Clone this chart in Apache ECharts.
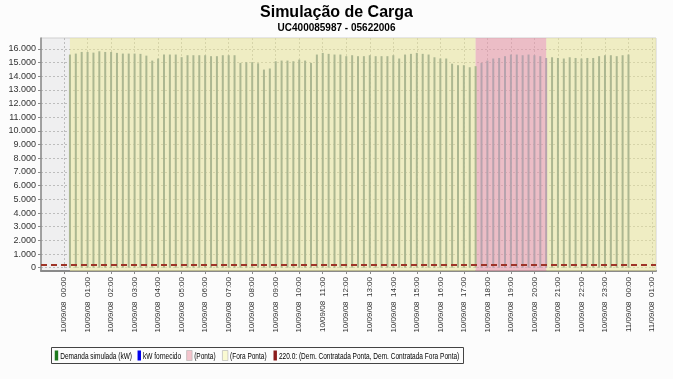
<!DOCTYPE html>
<html>
<head>
<meta charset="utf-8">
<script src="https://cdn.jsdelivr.net/npm/echarts@6/dist/echarts.min.js"></script>
<style>
html,body{margin:0;padding:0;background:#fcfcfc;}
#c{width:673px;height:379px;}
</style>
</head>
<body>
<div id="c"></div>
<script>
// Demanda simulada (kW), one value per 15 minutes from 10/09/08 00:15 to 11/09/08 00:00
var demandaSimulada = [
  15590,15660,15780,15780,15730,15830,15780,15780,15710,15660,
  15660,15660,15640,15510,15150,15300,15590,15590,15590,15400,
  15540,15540,15540,15540,15470,15470,15540,15540,15540,14980,
  15030,15030,14950,14490,14570,15100,15150,15150,15100,15220,
  15150,14980,15590,15710,15640,15590,15590,15470,15540,15470,
  15470,15540,15470,15470,15470,15540,15300,15590,15640,15710,
  15640,15590,15390,15300,15300,14920,14810,14810,14660,14740,
  14980,15150,15300,15340,15470,15590,15590,15540,15590,15540,
  15470,15340,15390,15340,15300,15390,15340,15300,15340,15340,
  15470,15540,15540,15470,15540,15590
];
var kwFornecido = [];
// sample times, hours after 10/09/08 00:00
var sampleHours = demandaSimulada.map(function(_, i){ return (i + 1) * 0.25; });

var xTickHours = [0,1,2,3,4,5,6,7,8,9,10,11,12,13,14,15,16,17,18,19,20,21,22,23,24,25];
var xTickLabels = [
  '10/09/08  00:00','10/09/08  01:00','10/09/08  02:00','10/09/08  03:00','10/09/08  04:00',
  '10/09/08  05:00','10/09/08  06:00','10/09/08  07:00','10/09/08  08:00','10/09/08  09:00',
  '10/09/08  10:00','10/09/08  11:00','10/09/08  12:00','10/09/08  13:00','10/09/08  14:00',
  '10/09/08  15:00','10/09/08  16:00','10/09/08  17:00','10/09/08  18:00','10/09/08  19:00',
  '10/09/08  20:00','10/09/08  21:00','10/09/08  22:00','10/09/08  23:00','11/09/08  00:00',
  '11/09/08  01:00'
];
var yTicks = [0,1000,2000,3000,4000,5000,6000,7000,8000,9000,10000,11000,12000,13000,14000,15000,16000];
var yTickLabels = ['0','1.000','2.000','3.000','4.000','5.000','6.000','7.000','8.000','9.000','10.000','11.000','12.000','13.000','14.000','15.000','16.000'];

var legendNames = ['Demanda simulada (kW)', 'kW fornecido', '(Ponta)', '(Fora Ponta)',
                   '220.0: (Dem. Contratada Ponta, Dem. Contratada Fora Ponta)'];
var legendColors = ['#1e7a1e', '#0000ee', '#f4c4cc', '#fafad2', '#8b1c1c'];

var pontaStart = 17.5, pontaEnd = 20.5;
var foraPontaStart = 0.25;
var demContratada = 220;

var xMin = -0.98, xMax = 25.17;

// ---- compact (horizontally condensed) legend built with graphic elements ----
var LEG_X = 51, LEG_Y = 347, LEG_W = 412, LEG_H = 16;
var measureCtx = document.createElement('canvas').getContext('2d');
measureCtx.font = '9.5px "Liberation Sans"';
var legChildren = [];
var cx = 4;
legendNames.forEach(function(name, i){
  var light = (i === 2 || i === 3);
  var sw = light ? 8 : 5;
  legChildren.push({type: 'rect', shape: {x: cx, y: 3, width: sw, height: 10},
    style: {fill: legendColors[i], stroke: light ? '#b8b8b8' : null, lineWidth: light ? 0.8 : 0}});
  cx += sw + 3;
  legChildren.push({type: 'text', x: cx, y: 8.5,
    style: {text: name, fontSize: 9.5, fontFamily: 'Liberation Sans', fill: '#000', verticalAlign: 'middle'}});
  cx += measureCtx.measureText(name).width + (light ? 10 : 8);
});
var legScale = (LEG_W - 2) / (cx - 4);

var chart = echarts.init(document.getElementById('c'));
chart.setOption({
  backgroundColor: '#fcfcfc',
  animation: false,
  title: [
    {text: 'Simulação de Carga', left: 'center', top: 0,
     textStyle: {fontFamily: 'Liberation Sans', fontWeight: 'bold', fontSize: 16, color: '#000'}},
    {text: 'UC400085987 - 05622006', left: 'center', top: 18,
     textStyle: {fontFamily: 'Liberation Sans', fontWeight: 'bold', fontSize: 10, color: '#000'}}
  ],
  grid: {left: 41, right: 17, top: 38, bottom: 108, show: true,
         backgroundColor: '#efeff0', borderColor: '#d0d0d0', borderWidth: 1},
  graphic: [
    {type: 'rect', silent: true, shape: {x: LEG_X + 0.5, y: LEG_Y + 0.5, width: LEG_W, height: LEG_H},
     style: {fill: '#fcfcfc', stroke: '#444', lineWidth: 1}},
    {type: 'group', silent: true, x: LEG_X + 1, y: LEG_Y + 0.5, scaleX: legScale, scaleY: 1, children: legChildren}
  ],
  xAxis: {
    type: 'value', min: xMin, max: xMax,
    axisLine: {show: true, onZero: false, lineStyle: {color: '#8a8a8a', width: 2}},
    axisTick: {show: true, customValues: xTickHours, length: 3, lineStyle: {color: '#8a8a8a'}},
    axisLabel: {customValues: xTickHours, rotate: 90, margin: 6, fontSize: 8,
      fontFamily: 'Liberation Sans', color: '#333',
      formatter: function(v){ var i = xTickHours.indexOf(v); return i >= 0 ? xTickLabels[i] : ''; }},
    splitLine: {show: true, lineStyle: {type: [2, 2], color: '#bdbdbd', width: 1}}
  },
  yAxis: {
    type: 'value', min: -240, max: 16800,
    axisLine: {show: true, onZero: false, lineStyle: {color: '#8a8a8a', width: 1.5}},
    axisTick: {show: true, customValues: yTicks, length: 3, lineStyle: {color: '#8a8a8a'}},
    axisLabel: {customValues: yTicks, margin: 5, fontSize: 9, fontFamily: 'Liberation Sans', color: '#333',
      formatter: function(v){ var i = yTicks.indexOf(v); return i >= 0 ? yTickLabels[i] : ''; }},
    splitLine: {show: true, lineStyle: {type: [2, 2], color: '#bdbdbd', width: 1}}
  },
  series: [
    {
      name: legendNames[3], type: 'line', data: [], z: 1,
      itemStyle: {color: legendColors[3]},
      markArea: {silent: true, itemStyle: {color: 'rgba(240,236,150,0.5)'},
        data: [[{xAxis: foraPontaStart}, {xAxis: pontaStart}], [{xAxis: pontaEnd}, {xAxis: xMax}]]}
    },
    {
      name: legendNames[2], type: 'line', data: [], z: 1,
      itemStyle: {color: legendColors[2]},
      markArea: {silent: true, itemStyle: {color: 'rgba(234,155,170,0.6)'},
        data: [[{xAxis: pontaStart}, {xAxis: pontaEnd}]]}
    },
    {
      name: legendNames[0], type: 'bar', barWidth: 2, barGap: '-100%', z: 2,
      data: sampleHours.map(function(h, i){ return [h, demandaSimulada[i]]; }),
      itemStyle: {color: function(p){
        var h = p.value[0];
        return (h > pontaStart && h <= pontaEnd) ? '#b7a3ad' : '#acb791';
      }}
    },
    {
      name: legendNames[1], type: 'bar', barWidth: 2, barGap: '-100%', z: 2,
      data: kwFornecido, itemStyle: {color: legendColors[1]}
    },
    {
      name: legendNames[4], type: 'line', data: [], z: 4,
      itemStyle: {color: legendColors[4]},
      markLine: {silent: true, symbol: 'none', label: {show: false},
        lineStyle: {color: '#9e3428', width: 2, type: [6, 4]},
        data: [{yAxis: demContratada}]}
    }
  ]
});
</script>
</body>
</html>
